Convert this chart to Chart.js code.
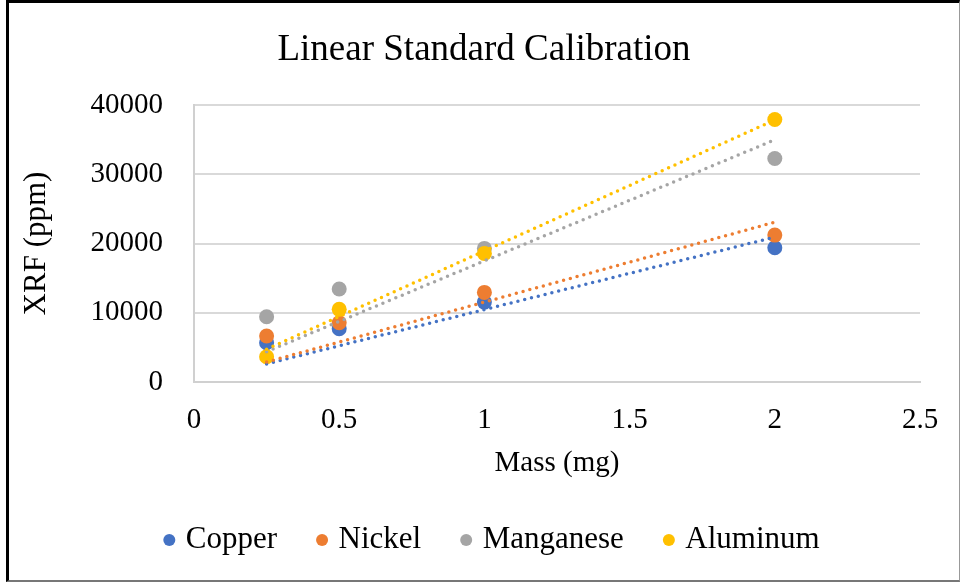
<!DOCTYPE html>
<html>
<head>
<meta charset="utf-8">
<title>Linear Standard Calibration</title>
<script src="https://cdn.jsdelivr.net/npm/chart.js@4.4.1/dist/chart.umd.min.js"></script>
<style>
  html, body { margin: 0; padding: 0; background: #fff; }
  #wrap { position: relative; width: 962px; height: 582px; overflow: hidden; }
  #calChart { position: absolute; left: 0; top: 0; }
  #frame {
    position: absolute; left: 6px; top: 0; width: 954px; height: 582px;
    box-sizing: border-box; pointer-events: none;
    border-left: 3px solid #000; border-top: 3px solid #000;
    border-right: 1px solid #999; border-bottom: 2px solid #777;
  }
</style>
</head>
<body>
<div id="wrap">
  <canvas id="calChart" width="962" height="582"></canvas>
  <div id="frame"></div>
</div>
<script>
const mass = [0.25, 0.5, 1, 2];
const copper = [5670, 7690, 11540, 19380];
const nickel = [6640, 8560, 12940, 21210];
const manganese = [9420, 13420, 19290, 32280];
const aluminum = [3650, 10490, 18570, 37900];

const names = ['Copper', 'Nickel', 'Manganese', 'Aluminum'];
const colors = ['#4472C4', '#ED7D31', '#A5A5A5', '#FFC000'];
const xTicks = [0, 0.5, 1, 1.5, 2, 2.5];
const yTicks = [0, 10000, 20000, 30000, 40000];

const serif = "'Liberation Serif', 'Times New Roman', serif";

// least squares slope with the intercept set to zero
function slopeThroughOrigin(xs, ys) {
    let sxy = 0, sxx = 0;
    for (let i = 0; i < xs.length; i++) {
        sxy += xs[i] * ys[i];
        sxx += xs[i] * xs[i];
    }
    return sxy / sxx;
}

const series = [copper, nickel, manganese, aluminum];
const datasets = [];

series.forEach((vals, i) => {
    datasets.push({
        label: names[i],
        data: mass.map((m, j) => ({ x: m, y: vals[j] })),
        backgroundColor: colors[i],
        borderColor: colors[i],
        pointRadius: 7.5,
        pointBorderWidth: 0,
        showLine: false,
        order: 10 - i
    });
});

series.forEach((vals, i) => {
    const k = slopeThroughOrigin(mass, vals);
    const x0 = mass[0], x1 = mass[mass.length - 1];
    datasets.push({
        label: names[i] + ' trend',
        data: [{ x: x0, y: k * x0 }, { x: x1, y: k * x1 }],
        borderColor: colors[i],
        borderWidth: 3.5,
        borderDash: [0, 7],
        borderCapStyle: 'round',
        pointRadius: 0,
        showLine: true,
        fill: false,
        order: 4 - i
    });
});

// title and legend sit centred on the whole frame, not just the plot
const centreBlocks = {
    id: 'centreBlocks',
    afterLayout(chart) {
        const t = chart.titleBlock, l = chart.legend;
        if (t) { t.left += 24; t.right += 24; }
        if (l) { l.left += 34; l.right += 34; }
    }
};

new Chart(document.getElementById('calChart'), {
    type: 'scatter',
    data: { datasets: datasets },
    plugins: [centreBlocks],
    options: {
        responsive: false,
        animation: false,
        layout: { padding: { left: 0, right: 42, top: 0, bottom: 16.5 } },
        plugins: {
            title: {
                display: true,
                text: 'Linear Standard Calibration',
                color: '#000',
                font: { family: serif, size: 37, weight: 'normal', lineHeight: 1.2 },
                padding: { top: 27.8, bottom: 32.8 }
            },
            legend: {
                position: 'bottom',
                labels: {
                    color: '#000',
                    font: { family: serif, size: 31 },
                    usePointStyle: true,
                    pointStyle: 'circle',
                    boxWidth: 2,
                    boxHeight: 8.5,
                    padding: 44,
                    sort: (a, b) => a.datasetIndex - b.datasetIndex,
                    filter: item => !item.text.endsWith('trend')
                }
            },
            tooltip: { enabled: false }
        },
        scales: {
            x: {
                type: 'linear',
                min: 0,
                max: 2.5,
                afterFit: s => { s.height = 98.5; },
                afterBuildTicks: s => { s.ticks = xTicks.map(v => ({ value: v })); },
                grid: { display: false, drawTicks: false },
                border: { display: true, color: '#D0D0D0', width: 2 },
                ticks: {
                    color: '#000',
                    font: { family: serif, size: 29 },
                    padding: 21,
                    callback: v => String(v)
                },
                title: {
                    display: true,
                    text: 'Mass (mg)',
                    color: '#000',
                    font: { family: serif, size: 29, lineHeight: 1.2 },
                    padding: { top: 0, bottom: 0 }
                }
            },
            y: {
                type: 'linear',
                min: 0,
                max: 40000,
                afterFit: s => { s.width = 194; },
                afterBuildTicks: s => { s.ticks = yTicks.map(v => ({ value: v })); },
                grid: { color: '#D9D9D9', lineWidth: 2, drawTicks: false },
                border: { display: true, color: '#D0D0D0', width: 2 },
                ticks: {
                    color: '#000',
                    font: { family: serif, size: 29 },
                    padding: 31,
                    callback: v => String(v)
                },
                title: {
                    display: true,
                    text: 'XRF (ppm)',
                    color: '#000',
                    font: { family: serif, size: 31, lineHeight: 1.2 },
                    padding: { top: 18.4, bottom: 0 }
                }
            }
        }
    }
});
</script>
</body>
</html>
